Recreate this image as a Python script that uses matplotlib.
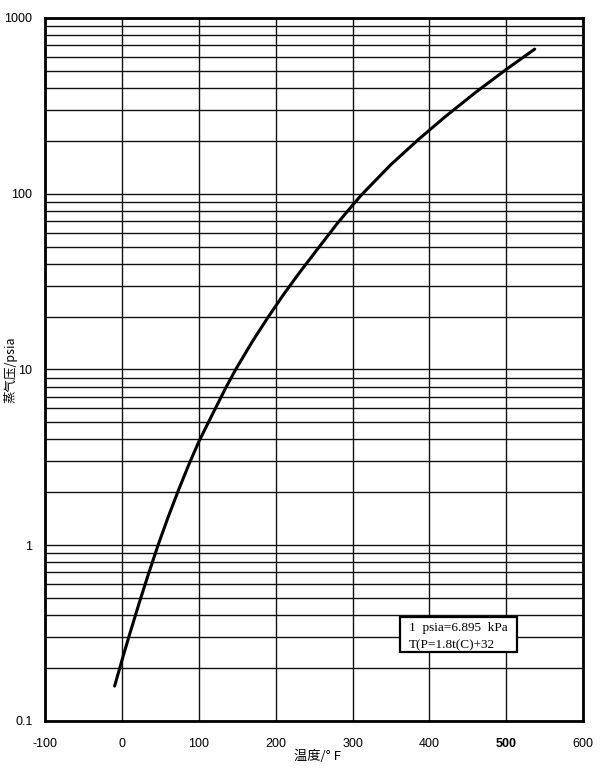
import matplotlib
matplotlib.use('Agg')
import matplotlib.pyplot as plt
from matplotlib.ticker import LogLocator, NullFormatter, FixedLocator
from matplotlib.patches import Rectangle

plt.rcParams['font.family'] = ['Liberation Sans', 'Noto Sans CJK SC']

# curve (temperature in F, vapour pressure in psia)
temp_f = [-9.5, 0, 10, 22, 34, 47, 60, 74, 87, 100, 112, 124, 136, 148, 170,
          190, 210, 230, 253, 280, 300, 312, 350, 386, 420, 460, 500, 537]
press_psia = [0.158, 0.221, 0.311, 0.462, 0.675, 1.0, 1.44, 2.08, 2.87, 3.88,
              4.95, 6.3, 8.0, 10.0, 14.5, 19.8, 26.6, 35.1, 47.5, 67.6, 86.0,
              98.9, 146.6, 204.0, 273.0, 377.0, 510.0, 665.0]

x_ticks = [-100, 0, 100, 200, 300, 400, 500, 600]
x_labels = ['-100', '0', '100', '200', '300', '400', '500', '600']
y_ticks = [0.1, 1, 10, 100, 1000]
y_labels = ['0.1', '1', '10', '100', '1000']

fig = plt.figure(figsize=(6.06, 7.68), dpi=100)
ax = fig.add_axes([0.0743, 0.0612, 0.888, 0.9154])

ax.set_yscale('log')
ax.set_xlim(-100, 600)
ax.set_ylim(0.1, 1000)

# grid: every 100 F, every 1..9 per decade
ax.xaxis.set_major_locator(FixedLocator(x_ticks))
ax.yaxis.set_major_locator(FixedLocator(y_ticks))
ax.yaxis.set_minor_locator(LogLocator(base=10, subs=range(2, 10)))
ax.yaxis.set_minor_formatter(NullFormatter())
ax.grid(True, which='major', axis='both', color='#111111', linewidth=1.0)
ax.grid(True, which='minor', axis='y', color='#111111', linewidth=1.0)
ax.tick_params(which='both', length=0)

ax.set_xticklabels(x_labels, fontsize=9)
ax.set_yticklabels(y_labels, fontsize=9)
ax.tick_params(axis='x', pad=12)
ax.tick_params(axis='y', pad=9)
for lbl in ax.get_xticklabels():
    if lbl.get_text() == '500':
        lbl.set_fontweight('bold')

for s in ax.spines.values():
    s.set_linewidth(2.0)
    s.set_color('black')

ax.plot(temp_f, press_psia, color='black', linewidth=2.2, solid_capstyle='round')

ax.set_xlabel('温度/° F', fontsize=9.5, family=['Noto Sans CJK SC', 'DejaVu Sans'])
ax.set_ylabel('蒸气压/psia', fontsize=9, family=['Noto Sans CJK SC', 'DejaVu Sans'])
ax.xaxis.set_label_coords(0.507, -0.041)
ax.yaxis.set_label_coords(-0.052, 0.5)

# conversion note box
box = Rectangle((0.66, 0.098), 0.2175, 0.0498, transform=ax.transAxes,
                facecolor='white', edgecolor='black', linewidth=1.6, zorder=5)
ax.add_patch(box)
ax.text(0.676, 0.132, '1  psia=6.895  kPa', transform=ax.transAxes, fontsize=9.5,
        family='Liberation Serif', va='center', ha='left', zorder=6)
ax.text(0.676, 0.108, 'T(P=1.8t(C)+32', transform=ax.transAxes, fontsize=9.5,
        family='Liberation Serif', va='center', ha='left', zorder=6)

plt.savefig('out.png', dpi=100)
plt.close(fig)
